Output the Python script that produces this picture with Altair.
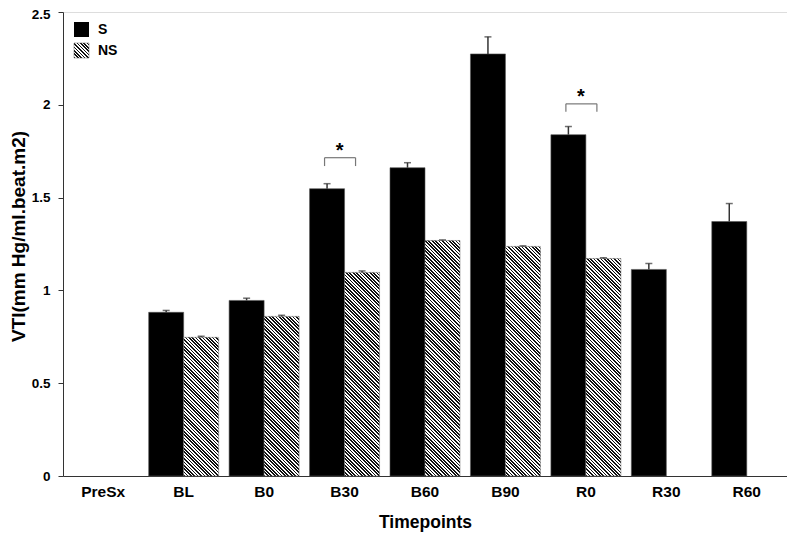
import altair as alt
import pandas as pd

# ---------------- data ----------------
cats = ["PreSx", "BL", "B0", "B30", "B60", "B90", "R0", "R30", "R60"]

s_cats = ["BL", "B0", "B30", "B60", "B90", "R0", "R30", "R60"]
s_vals = [0.882, 0.946, 1.548, 1.661, 2.274, 1.839, 1.113, 1.371]
s_errs = [0.010, 0.012, 0.027, 0.027, 0.092, 0.044, 0.032, 0.097]

ns_cats = ["BL", "B0", "B30", "B60", "B90", "R0"]
ns_vals = [0.747, 0.860, 1.097, 1.269, 1.237, 1.172]
ns_errs = [0.006, 0.006, 0.008, 0.003, 0.003, 0.004]

groups = ["S", "NS"]

sig_cats = ["B30", "R0"]
sig_top = [1.715, 2.005]
sig_low = [1.670, 1.962]

y_ticks = [0, 0.5, 1, 1.5, 2, 2.5]

# ---------------- layout ----------------
W, H = 724, 464
YMAX = 2.5
PAD_IN = 0.13
PX_PER_UNIT = H / YMAX
BAR_W = W / len(cats) * (1 - PAD_IN) / 2
FONT = "Liberation Sans"

s_df = pd.DataFrame({"cat": s_cats, "group": "S", "value": s_vals, "err": s_errs})
ns_df = pd.DataFrame({"cat": ns_cats, "group": "NS", "value": ns_vals, "err": ns_errs})
all_df = pd.concat([s_df, ns_df], ignore_index=True)
all_df["hi"] = all_df["value"] + all_df["err"]

sig_df = pd.DataFrame({"cat": sig_cats, "value": sig_top, "low": sig_low, "star": "*"})


def hatch(w, h, period=3.4):
    """Diagonal black/white stripes as a hard-stop linear gradient."""
    total = w + h
    k = w / (w * w + h * h)
    stops = []
    s = 0.0
    while s < total:
        a = round(min(s * k, 1), 5)
        b = round(min((s + period / 2) * k, 1), 5)
        c = round(min((s + period) * k, 1), 5)
        stops += [
            {"offset": a, "color": "#111111"},
            {"offset": b, "color": "#111111"},
            {"offset": b, "color": "#ffffff"},
            {"offset": c, "color": "#ffffff"},
        ]
        s += period
    return {"gradient": "linear", "x1": 0, "y1": 1, "x2": 1, "y2": round(1 - h / w, 5), "stops": stops}


X_AXIS = alt.Axis(
    title="Timepoints",
    labelAngle=0,
    ticks=False,
    tickSize=0,
    labelPadding=8,
    labelFont=FONT,
    labelFontSize=15.5,
    labelFontWeight="bold",
    labelColor="black",
    titleFont=FONT,
    titleFontSize=17.5,
    titleFontWeight="bold",
    titleColor="black",
    titleY=46,
    titleBaseline="middle",
    domainColor="#333333",
)
Y_AXIS = alt.Axis(
    title="VTI(mm Hg/ml.beat.m2)",
    values=y_ticks,
    labelExpr="'' + datum.value",
    labelOffset={"expr": "datum.value == 2.5 ? 2.5 : 0"},
    grid=False,
    tickSize=5,
    labelPadding=8,
    labelFont=FONT,
    labelFontSize=13.5,
    labelFontWeight="bold",
    labelColor="black",
    titleFont=FONT,
    titleFontSize=19,
    titleFontWeight="bold",
    titleColor="black",
    titleAngle=270,
    titleX=-45,
    titleY=224,
    titleAlign="center",
    titleBaseline="middle",
    domainColor="#333333",
    tickColor="#333333",
)
X_SCALE = alt.Scale(domain=cats, paddingInner=PAD_IN, paddingOuter=PAD_IN / 2)
Y_SCALE = alt.Scale(domain=[0, YMAX], nice=False, zero=True)


def X():
    return alt.X("cat:N", scale=X_SCALE, axis=X_AXIS)


def Y(field="value"):
    return alt.Y(field + ":Q", scale=Y_SCALE, axis=Y_AXIS)


def XO():
    return alt.XOffset("group:N", scale=alt.Scale(domain=groups, paddingInner=0, paddingOuter=0))


layers = []

# S bars (solid black)
layers.append(
    alt.Chart(s_df).mark_bar(fill="black", stroke="#555555", strokeWidth=0.6).encode(x=X(), xOffset=XO(), y=Y())
)

# NS bars (hatched), one layer each so each stripe gradient fits its own bar
for c, v in zip(ns_cats, ns_vals):
    d = ns_df[ns_df["cat"] == c]
    layers.append(
        alt.Chart(d)
        .mark_bar(fill=hatch(BAR_W, v * PX_PER_UNIT), stroke="#666666", strokeWidth=0.5)
        .encode(x=X(), xOffset=XO(), y=Y())
    )

# error bars
layers.append(
    alt.Chart(all_df).mark_rule(color="#333333", strokeWidth=1.5).encode(x=X(), xOffset=XO(), y=Y(), y2="hi:Q")
)
layers.append(
    alt.Chart(all_df)
    .mark_tick(color="#333333", thickness=1.5, size=7, orient="horizontal")
    .encode(x=X(), xOffset=XO(), y=Y("hi"))
)

# significance brackets
layers.append(
    alt.Chart(sig_df)
    .mark_rule(color="#777777", strokeWidth=1.2, xOffset=-20, x2Offset=11)
    .encode(x=X(), x2="cat:N", y=Y())
)
for off in (-20, 11):
    layers.append(
        alt.Chart(sig_df).mark_rule(color="#777777", strokeWidth=1.2, xOffset=off).encode(x=X(), y=Y(), y2="low:Q")
    )
layers.append(
    alt.Chart(sig_df)
    .mark_text(font=FONT, fontSize=20, fontWeight="bold", color="black", baseline="alphabetic", dx=-5, dy=-1)
    .encode(x=X(), y=Y(), text="star:N")
)

# legend (inside, top-left)
leg_s = pd.DataFrame({"label": ["S"]})
leg_ns = pd.DataFrame({"label": ["NS"]})
layers.append(
    alt.Chart(leg_s).mark_rect(fill="black").encode(
        x=alt.value(11), x2=alt.value(26), y=alt.value(10), y2=alt.value(25)
    )
)
layers.append(
    alt.Chart(leg_ns).mark_rect(fill=hatch(15, 15), stroke="#666666", strokeWidth=0.5).encode(
        x=alt.value(11), x2=alt.value(26), y=alt.value(31), y2=alt.value(46)
    )
)
layers.append(
    alt.Chart(leg_s).mark_text(font=FONT, fontSize=14, fontWeight="bold", align="left", baseline="middle").encode(
        x=alt.value(35), y=alt.value(18), text="label:N"
    )
)
layers.append(
    alt.Chart(leg_ns).mark_text(font=FONT, fontSize=14, fontWeight="bold", align="left", baseline="middle").encode(
        x=alt.value(35), y=alt.value(39), text="label:N"
    )
)

chart = (
    alt.layer(*layers)
    .properties(
        width=W,
        height=H,
        autosize=alt.AutoSizeParams(type="none"),
        padding={"left": 55, "top": 4, "right": 0, "bottom": 60},
    )
    .configure_view(stroke="#777777", strokeWidth=1)
    .configure(background="white")
)

chart.save("out.html", embed_options={"renderer": "svg", "actions": False})
